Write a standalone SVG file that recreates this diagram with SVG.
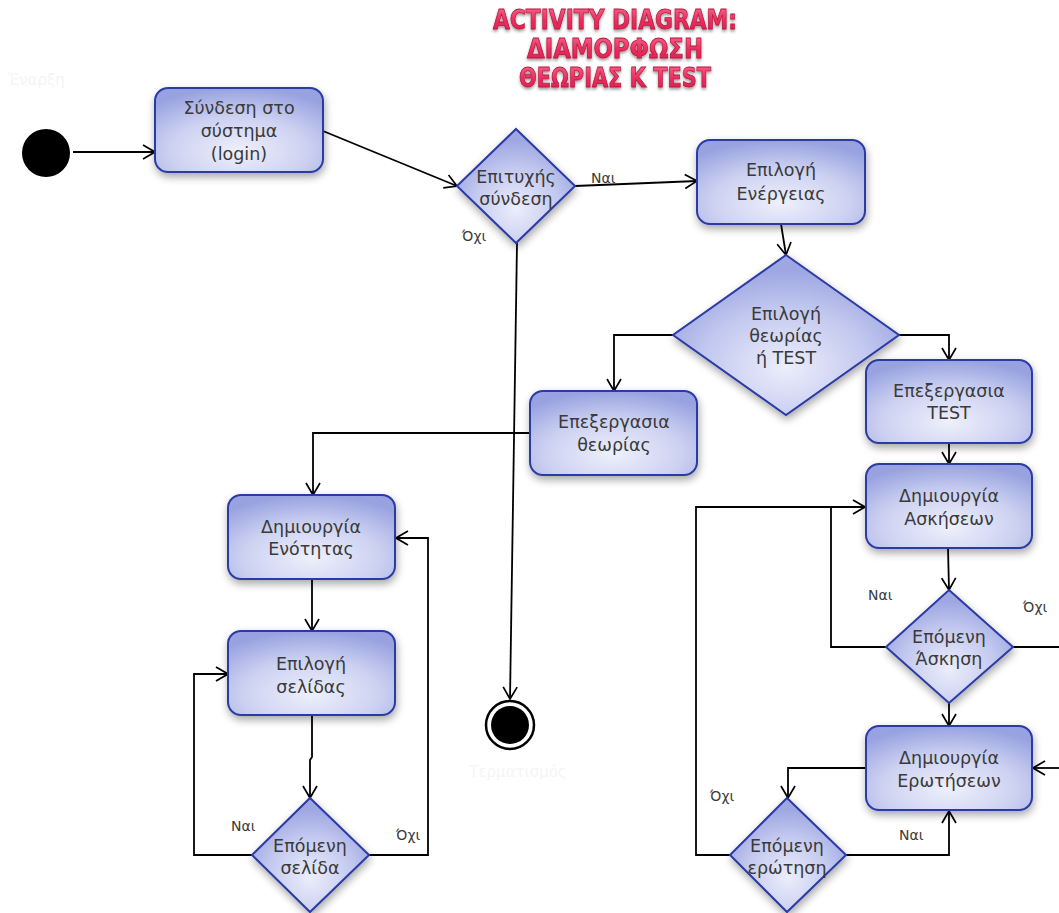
<svg xmlns="http://www.w3.org/2000/svg" width="1059" height="913" viewBox="0 0 1059 913">
  <defs>
    <radialGradient id="boxFill" cx="0.5" cy="0.75" r="0.75">
      <stop offset="0" stop-color="#eef0fb"/>
      <stop offset="0.55" stop-color="#ccd1f1"/>
      <stop offset="1" stop-color="#98a2e0"/>
    </radialGradient>
    <radialGradient id="diaFill" cx="0.5" cy="0.7" r="0.6">
      <stop offset="0" stop-color="#eceefb"/>
      <stop offset="0.6" stop-color="#c3c9ef"/>
      <stop offset="1" stop-color="#9ea7e2"/>
    </radialGradient>
    <linearGradient id="titleFill" x1="0" y1="0" x2="0" y2="1">
      <stop offset="0" stop-color="#f76a8e"/>
      <stop offset="0.5" stop-color="#ea2f5f"/>
      <stop offset="1" stop-color="#d81c4c"/>
    </linearGradient>
    <filter id="shadow" x="-20%" y="-20%" width="140%" height="150%">
      <feGaussianBlur in="SourceAlpha" stdDeviation="4"/>
      <feOffset dx="1" dy="4" result="b"/>
      <feComponentTransfer><feFuncA type="linear" slope="0.35"/></feComponentTransfer>
      <feMerge><feMergeNode/><feMergeNode in="SourceGraphic"/></feMerge>
    </filter>
    <filter id="glow" x="-10%" y="-30%" width="120%" height="160%">
      <feGaussianBlur in="SourceAlpha" stdDeviation="1.5"/>
      <feOffset dx="0" dy="1.5"/>
      <feComponentTransfer><feFuncA type="linear" slope="0.4"/></feComponentTransfer>
      <feMerge><feMergeNode/><feMergeNode in="SourceGraphic"/></feMerge>
    </filter>
    <marker id="open" viewBox="0 0 14 16" refX="13" refY="8" markerWidth="14" markerHeight="16" markerUnits="userSpaceOnUse" orient="auto">
      <path d="M1,1 L13,8 L1,15" fill="none" stroke="#000" stroke-width="1.7"/>
    </marker>
    <style>
      .box { fill: url(#boxFill); stroke: #2b3aa6; stroke-width: 2; filter: url(#shadow); }
      .dia { fill: url(#diaFill); stroke: #2b3aa6; stroke-width: 2; filter: url(#shadow); }
      .lbl { font-family: "DejaVu Sans", "Noto Sans", sans-serif; font-size: 17.5px; fill: #3a3a3a; text-anchor: middle; }
      .guard { font-family: "DejaVu Sans", "Noto Sans", sans-serif; font-size: 14px; fill: #3a3a3a; }
      .ghost { font-family: "DejaVu Sans", sans-serif; font-size: 15px; fill: #f5f5f5; }
      .edge { fill: none; stroke: #000; stroke-width: 1.8; }
      .title { font-family: "DejaVu Sans", "Liberation Sans", sans-serif; font-weight: bold; font-size: 26px; fill: url(#titleFill); stroke: #b8173f; stroke-width: 0.8; text-anchor: middle; filter: url(#glow); }
    </style>
  </defs>

  <rect width="1059" height="913" fill="#ffffff"/>

  <!-- Title -->
  <g id="title">
    <text class="title" x="615" y="29" textLength="244" lengthAdjust="spacingAndGlyphs">ACTIVITY DIAGRAM:</text>
    <text class="title" x="615" y="58" textLength="176" lengthAdjust="spacingAndGlyphs">ΔΙΑΜΟΡΦΩΣΗ</text>
    <text class="title" x="615" y="87" textLength="192" lengthAdjust="spacingAndGlyphs">ΘΕΩΡΙΑΣ Κ TEST</text>
  </g>

  <!-- Connectors -->
  <g id="connectors">
    <path class="edge" d="M73,152 L155,152" marker-end="url(#open)"/>
    <path class="edge" d="M323,131 L457,186" marker-end="url(#open)"/>
    <path class="edge" d="M575,186 L697,181" marker-end="url(#open)"/>
    <path class="edge" d="M517,243 L510,699" marker-end="url(#open)"/>
    <path class="edge" d="M781,224 L786,255" marker-end="url(#open)"/>
    <path class="edge" d="M673,335 L614,335 L614,391" marker-end="url(#open)"/>
    <path class="edge" d="M899,335 L949,335 L949,360" marker-end="url(#open)"/>
    <path class="edge" d="M530,433 L313,433 L313,495" marker-end="url(#open)"/>
    <path class="edge" d="M312,579 L312,631" marker-end="url(#open)"/>
    <path class="edge" d="M312,715 L312,757 L310,760 L310,798" marker-end="url(#open)"/>
    <path class="edge" d="M252,855 L194,855 L194,674 L228,674" marker-end="url(#open)"/>
    <path class="edge" d="M369,855 L428,855 L428,538 L396,538" marker-end="url(#open)"/>
    <path class="edge" d="M949,443 L949,464" marker-end="url(#open)"/>
    <path class="edge" d="M948,548 L949,590" marker-end="url(#open)"/>
    <path class="edge" d="M886,647 L831,647 L831,507"/>
    <path class="edge" d="M730,855 L696,855 L696,507 L865,507" marker-end="url(#open)"/>
    <path class="edge" d="M1013,647 L1059,647"/>
    <path class="edge" d="M949,703 L949,726" marker-end="url(#open)"/>
    <path class="edge" d="M1059,768 L1033,768" marker-end="url(#open)"/>
    <path class="edge" d="M866,768 L788,768 L788,798" marker-end="url(#open)"/>
    <path class="edge" d="M846,855 L949,855 L949,811" marker-end="url(#open)"/>
  </g>

  <!-- Guard labels -->
  <g id="guards">
    <text class="guard" x="591" y="183">Ναι</text>
    <text class="guard" x="462" y="241">Όχι</text>
    <text class="guard" x="231" y="831">Ναι</text>
    <text class="guard" x="396" y="840">Όχι</text>
    <text class="guard" x="868" y="600">Ναι</text>
    <text class="guard" x="1023" y="612">Όχι</text>
    <text class="guard" x="710" y="801">Όχι</text>
    <text class="guard" x="899" y="840">Ναι</text>
  </g>

  <!-- Start / end -->
  <g id="start">
    <circle cx="46" cy="153" r="24" fill="#000"/>
    <text class="ghost" x="8" y="85">Έναρξη</text>
  </g>
  <g id="end">
    <circle cx="510" cy="725" r="24" fill="#fff" stroke="#000" stroke-width="2.5"/>
    <circle cx="510" cy="725" r="19" fill="#000"/>
    <text class="ghost" x="518" y="777" text-anchor="middle">Τερματισμός</text>
  </g>

  <g id="login">
    <rect class="box" x="155" y="88" width="168" height="84" rx="13"/>
    <text class="lbl" x="239" y="114">Σύνδεση στο</text>
    <text class="lbl" x="239" y="137">σύστημα</text>
    <text class="lbl" x="239" y="160">(login)</text>
  </g>

  <g id="loginOk">
    <polygon class="dia" points="516,129 575,186 516,243 457,186"/>
    <text class="lbl" x="516" y="183">Επιτυχής</text>
    <text class="lbl" x="516" y="205">σύνδεση</text>
  </g>

  <g id="chooseAction">
    <rect class="box" x="697" y="140" width="168" height="84" rx="13"/>
    <text class="lbl" x="781" y="176">Επιλογή</text>
    <text class="lbl" x="781" y="200">Ενέργειας</text>
  </g>

  <g id="chooseKind">
    <polygon class="dia" points="786,255 899,335 786,415 673,335"/>
    <text class="lbl" x="786" y="320">Επιλογή</text>
    <text class="lbl" x="786" y="342">θεωρίας</text>
    <text class="lbl" x="786" y="364">ή TEST</text>
  </g>

  <g id="editTheory">
    <rect class="box" x="530" y="391" width="167" height="84" rx="13"/>
    <text class="lbl" x="614" y="428">Επεξεργασια</text>
    <text class="lbl" x="614" y="451">θεωρίας</text>
  </g>

  <g id="editTest">
    <rect class="box" x="866" y="360" width="166" height="83" rx="13"/>
    <text class="lbl" x="949" y="397">Επεξεργασια</text>
    <text class="lbl" x="949" y="419">TEST</text>
  </g>

  <g id="newUnit">
    <rect class="box" x="228" y="495" width="167" height="84" rx="13"/>
    <text class="lbl" x="311" y="533">Δημιουργία</text>
    <text class="lbl" x="311" y="555">Ενότητας</text>
  </g>

  <g id="choosePage">
    <rect class="box" x="228" y="631" width="167" height="84" rx="13"/>
    <text class="lbl" x="311" y="670">Επιλογή</text>
    <text class="lbl" x="311" y="693">σελίδας</text>
  </g>

  <g id="nextPage">
    <polygon class="dia" points="310,798 369,855 310,912 252,855"/>
    <text class="lbl" x="310" y="852">Επόμενη</text>
    <text class="lbl" x="310" y="874">σελίδα</text>
  </g>

  <g id="newExercises">
    <rect class="box" x="866" y="464" width="166" height="84" rx="13"/>
    <text class="lbl" x="949" y="502">Δημιουργία</text>
    <text class="lbl" x="949" y="525">Ασκήσεων</text>
  </g>

  <g id="nextExercise">
    <polygon class="dia" points="949,590 1013,647 949,703 886,647"/>
    <text class="lbl" x="949" y="643">Επόμενη</text>
    <text class="lbl" x="949" y="665">Άσκηση</text>
  </g>

  <g id="newQuestions">
    <rect class="box" x="866" y="726" width="166" height="84" rx="13"/>
    <text class="lbl" x="949" y="764">Δημιουργία</text>
    <text class="lbl" x="949" y="787">Ερωτήσεων</text>
  </g>

  <g id="nextQuestion">
    <polygon class="dia" points="787,798 846,855 787,912 730,855"/>
    <text class="lbl" x="787" y="852">Επόμενη</text>
    <text class="lbl" x="787" y="874">ερώτηση</text>
  </g>
</svg>
